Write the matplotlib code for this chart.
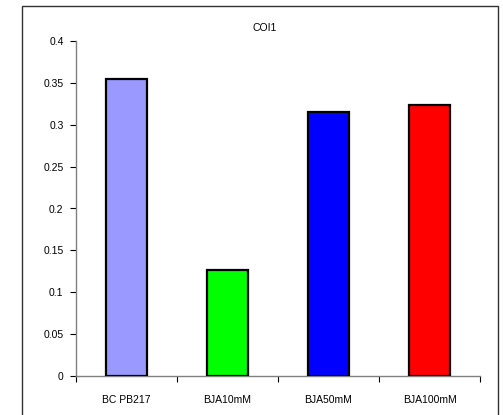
import matplotlib
matplotlib.use("Agg")
import matplotlib.pyplot as plt
from matplotlib.patches import Rectangle

categories = ["BC PB217", "BJA10mM", "BJA50mM", "BJA100mM"]
values = [0.355, 0.126, 0.315, 0.323]
colors = ["#9999FF", "#00FF00", "#0000FF", "#FF0000"]
yticks = [0, 0.05, 0.1, 0.15, 0.2, 0.25, 0.3, 0.35, 0.4]
ytick_labels = ["0", "0.05", "0.1", "0.15", "0.2", "0.25", "0.3", "0.35", "0.4"]

plt.rcParams["font.family"] = ["Liberation Sans", "DejaVu Sans"]

W, H = 503, 415
fig = plt.figure(figsize=(W / 100, H / 100), dpi=100)
ax = fig.add_axes([76 / W, (H - 376) / H, (480 - 76) / W, (376 - 41) / H])

# outer chart frame (bottom runs off the picture)
frame = Rectangle((22 / W, -0.05), (498 - 22) / W, (H - 6) / H + 0.05,
                  transform=fig.transFigure, fill=False, edgecolor="#333333",
                  linewidth=1.0, clip_on=False)
fig.patches.append(frame)

x = list(range(len(categories)))
ax.bar(x, values, width=0.41, color=colors, edgecolor="black", linewidth=1.6, zorder=3)

ax.set_xlim(-0.5, len(categories) - 0.5)
ax.set_ylim(0, 0.4)
ax.set_yticks(yticks)
ax.set_yticklabels(ytick_labels, fontsize=7.5)

ax.set_xticks(x)
ax.set_xticklabels(categories, fontsize=7.5)
ax.set_xticks([i - 0.5 for i in range(len(categories) + 1)], minor=True)
ax.tick_params(axis="x", which="major", length=0, pad=14)
ax.tick_params(axis="x", which="minor", length=4, direction="out", color="black", width=0.8)
ax.tick_params(axis="y", length=4, direction="out", color="black", width=0.8, pad=5)

for side in ["top", "right"]:
    ax.spines[side].set_visible(False)
for side in ["left", "bottom"]:
    ax.spines[side].set_color("#808080")
    ax.spines[side].set_linewidth(1.0)

fig.text(265 / W, (H - 28) / H, "COI1", ha="center", va="center", fontsize=7.5)

fig.savefig("out.png", dpi=100)
